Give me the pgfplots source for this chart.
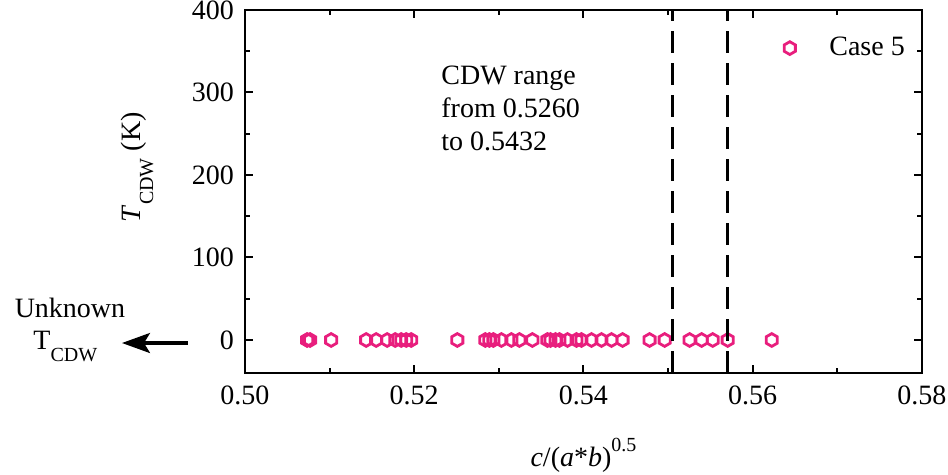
\documentclass[border=0pt]{standalone}
\usepackage{fontspec}
\setmainfont{Liberation Serif}
\usepackage{pgfplots}
\pgfplotsset{compat=1.18}
\usetikzlibrary{arrows.meta}
\definecolor{casepink}{RGB}{232,30,125}
\newcommand{\sub}[1]{\raisebox{-0.45em}{\fontsize{10}{10}\selectfont #1}}
\newcommand{\sups}[1]{\raisebox{0.55em}{\fontsize{10}{10}\selectfont #1}}
\pgfdeclareplotmark{hexagon}{%
  \pgfpathmoveto{\pgfpointpolar{90}{\pgfplotmarksize}}%
  \pgfpathlineto{\pgfpointpolar{150}{\pgfplotmarksize}}%
  \pgfpathlineto{\pgfpointpolar{210}{\pgfplotmarksize}}%
  \pgfpathlineto{\pgfpointpolar{270}{\pgfplotmarksize}}%
  \pgfpathlineto{\pgfpointpolar{330}{\pgfplotmarksize}}%
  \pgfpathlineto{\pgfpointpolar{30}{\pgfplotmarksize}}%
  \pgfpathclose
  \pgfusepathqstroke}
\begin{document}
\begin{tikzpicture}[font=\fontsize{14}{16.5}\selectfont]
\useasboundingbox (-122.5pt,-51pt) rectangle (351.5pt,186.5pt);
\begin{axis}[
  scale only axis, width=338.5pt, height=181.5pt,
  at={(0,0)}, anchor=south west,
  clip mode=individual,
  xmin=0.50, xmax=0.58, ymin=-40, ymax=400,
  xtick={0.50,0.52,0.54,0.56,0.58},
  minor xtick={0.51,0.53,0.55,0.57},
  ytick={0,100,200,300,400},
  minor ytick={50,150,250,350},
  tick align=inside,
  major tick length=4pt, minor tick length=2.5pt,
  every tick/.style={black, line width=1pt},
  axis line style={line width=1.4pt},
  /pgf/number format/assume math mode=true,
  scaled x ticks=false,
  xticklabel style={/pgf/number format/fixed, /pgf/number format/fixed zerofill, /pgf/number format/precision=2, yshift=-3pt},
  yticklabel style={xshift=-2pt},
  xlabel={\textit{c}/(\textit{a}*\textit{b})\sups{0.5}},
  xlabel style={at={(rel axis cs:0.5,-0.226)}, anchor=center},
  ylabel={\textit{T}\sub{CDW} (K)},
  ylabel style={at={(rel axis cs:-0.159,0.567)}, anchor=center},
  legend style={draw=none, fill=none, at={(rel axis cs:0.796,0.895)}, anchor=west, inner sep=0pt,
    /tikz/every odd column/.append style={column sep=15pt}},
]
\addplot[only marks, mark=hexagon, mark size=3.2pt, color=casepink, mark options={line width=1.4pt, solid}] coordinates {
(0.50734,0) (0.50769,0) (0.51018,0) (0.51432,0) (0.51550,0) (0.51680,0)
(0.51775,0) (0.51846,0) (0.51905,0) (0.51964,0) (0.52509,0) (0.52840,0)
(0.52888,0) (0.52935,0) (0.53030,0) (0.53148,0) (0.53243,0) (0.53396,0)
(0.53574,0) (0.53610,0) (0.53669,0) (0.53716,0) (0.53811,0) (0.53917,0)
(0.53976,0) (0.54095,0) (0.54213,0) (0.54331,0) (0.54462,0) (0.54781,0)
(0.54959,0) (0.55254,0) (0.55396,0) (0.55527,0) (0.55704,0) (0.56225,0)
};
\addlegendentry{Case 5}
\addplot[black, line width=1.5pt, dash pattern=on 11pt off 5pt, forget plot] coordinates {(0.5505,-40) (0.5505,400)};
\addplot[black, line width=1.5pt, dash pattern=on 11pt off 5pt, forget plot] coordinates {(0.5570,-40) (0.5570,400)};
\node[anchor=north west, inner sep=0pt, align=left] at (rel axis cs:0.2895,0.848) {CDW range\\from 0.5260\\to 0.5432};
\node[anchor=base, inner sep=0pt] at (rel axis cs:-0.2585,0.1515) {Unknown};
\node[anchor=base west, inner sep=0pt] at (rel axis cs:-0.3131,0.0661) {T\sub{CDW}};
\draw[line width=1.6pt, -{Stealth[length=14pt,width=10pt,inset=3pt]}] (rel axis cs:-0.0842,0.0826) -- (rel axis cs:-0.1817,0.0826);
\end{axis}
\end{tikzpicture}
\end{document}
